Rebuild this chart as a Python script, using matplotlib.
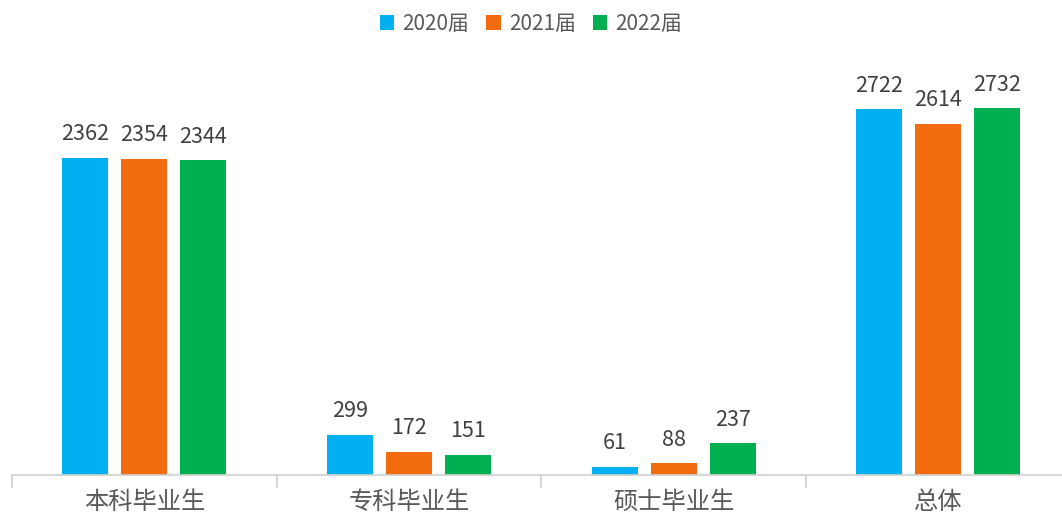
import matplotlib
matplotlib.use("Agg")
import matplotlib.pyplot as plt
import numpy as np

plt.rcParams['font.family'] = ['Noto Sans CJK SC', 'DejaVu Sans']

categories = ["本科毕业生", "专科毕业生", "硕士毕业生", "总体"]
series_names = ["2020届", "2021届", "2022届"]
v2020 = [2362, 299, 61, 2722]
v2021 = [2354, 172, 88, 2614]
v2022 = [2344, 151, 237, 2732]
colors = ["#00B0F0", "#F26B0F", "#00B050"]

fig = plt.figure(figsize=(10.62, 5.17), dpi=100)
ax = fig.add_axes([12/1062, 42/517, 1050/1062, 425/517])

x = np.arange(len(categories))
w = 0.174
pitch = 0.223
for i, (vals, name, c) in enumerate(zip([v2020, v2021, v2022], series_names, colors)):
    xs = x + (i - 1) * pitch
    bars = ax.bar(xs, vals, width=w, color=c, label=name)
    for xi, v in zip(xs, vals):
        ax.annotate(str(v), (xi, v), xytext=(0, 9), textcoords="offset points",
                    ha="center", va="bottom", fontsize=15.5, color="#404040")

ax.set_xlim(-0.5, 3.468)
ax.set_ylim(0, 3164)
for s in ["top", "right", "left"]:
    ax.spines[s].set_visible(False)
ax.spines["bottom"].set_color("#D0D0D0")
ax.spines["bottom"].set_linewidth(1.2)
ax.set_yticks([])
ax.set_xticks(x)
ax.set_xticklabels(categories, fontsize=17.5, color="#595959")
ax.tick_params(axis="x", which="major", length=0, pad=10)
ax.set_xticks([-0.5, 0.5, 1.5, 2.5], minor=True)
ax.tick_params(axis="x", which="minor", length=9, color="#D0D0D0", width=1.2)

leg = fig.legend(loc="upper center", bbox_to_anchor=(0.5, 1.0), ncol=3, frameon=False,
                 fontsize=15, handlelength=0.7, handleheight=0.7, handletextpad=0.4,
                 columnspacing=0.8, borderaxespad=0.2)
for t in leg.get_texts():
    t.set_color("#595959")

fig.savefig("out.png", dpi=100)
